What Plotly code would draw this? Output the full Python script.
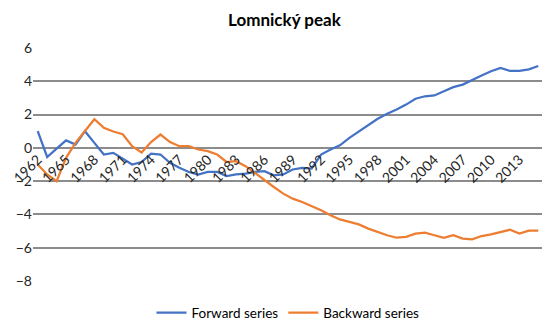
import plotly.graph_objects as go

years = list(range(1962, 2016))
forward = [1.0, -0.55, -0.05, 0.45, 0.2, 1.0, 0.3, -0.4, -0.3, -0.65,
           -1.0, -0.85, -0.35, -0.4, -0.9, -1.2, -1.45, -1.6, -1.45, -1.45,
           -1.7, -1.6, -1.55, -1.45, -1.4, -1.65, -1.6, -1.3, -1.2, -1.25,
           -0.4, -0.1, 0.15, 0.6, 1.0, 1.4, 1.75, 2.05, 2.3, 2.6,
           2.95, 3.1, 3.15, 3.4, 3.65, 3.8, 4.1, 4.35, 4.6, 4.8,
           4.62, 4.62, 4.72, 4.92]
backward = [-1.0, -1.6, -2.0, -0.6, 0.3, 1.0, 1.72, 1.2, 0.98, 0.82,
            0.1, -0.28, 0.35, 0.8, 0.35, 0.1, 0.1, -0.1, -0.2, -0.4,
            -0.85, -0.8, -1.1, -1.5, -1.95, -2.35, -2.75, -3.05, -3.25, -3.5,
            -3.75, -4.05, -4.3, -4.45, -4.6, -4.85, -5.05, -5.25, -5.4, -5.35,
            -5.15, -5.1, -5.25, -5.4, -5.25, -5.45, -5.5, -5.3, -5.2, -5.05,
            -4.92, -5.15, -4.97, -4.97]
tick_years = list(range(1962, 2016, 3))
tick_labels = [str(y) for y in tick_years]
y_ticks = [-8, -6, -4, -2, 0, 2, 4, 6]

font = "Lato, 'Open Sans', sans-serif"
x_range = [1961.5, 2015.5]

fig = go.Figure()
fig.add_trace(go.Scatter(x=years, y=forward, mode="lines", name="Forward series",
                         line=dict(color="#4472C4", width=2.25)))
fig.add_trace(go.Scatter(x=years, y=backward, mode="lines", name="Backward series",
                         line=dict(color="#ED7D31", width=2.25)))

fig.update_layout(
    width=542, height=317,
    margin=dict(l=25, r=7, t=40, b=44, autoexpand=False),
    paper_bgcolor="white", plot_bgcolor="white",
    font=dict(family=font, color="#404040", size=14),
    title=dict(text="<b>Lomnický peak</b>", x=0.51, xanchor="center", y=0.963, yanchor="middle",
               font=dict(size=17, color="#000000", family=font), automargin=False),
    showlegend=True,
    legend=dict(orientation="h", x=0.5, xanchor="center", y=-0.137, yanchor="middle",
                font=dict(size=13.5, color="#000000", family=font), itemwidth=30),
    xaxis=dict(range=x_range, tickmode="array", tickvals=tick_years, ticktext=tick_labels,
               tickangle=-45, showgrid=False, zeroline=False, showline=False, ticks="",
               anchor="free", position=8/14, automargin=False,
               tickfont=dict(size=14, color="#262626")),
    yaxis=dict(range=[-8, 6], dtick=2, tick0=0, showgrid=True, gridcolor="#8C8C8C", gridwidth=1.5,
               zeroline=True, zerolinecolor="#8C8C8C", zerolinewidth=1.5,
               ticks="", automargin=False, tickfont=dict(size=14, color="#262626")),
)

fig.write_html("out.html")
